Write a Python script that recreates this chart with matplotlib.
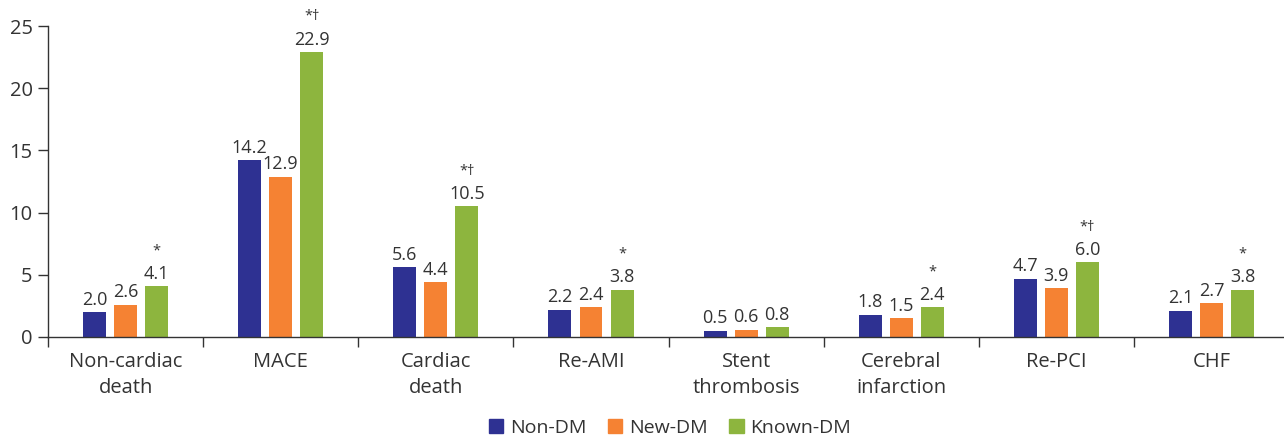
import matplotlib
matplotlib.use("Agg")
import matplotlib.pyplot as plt
import numpy as np
from matplotlib.patches import Patch

categories = ["Non-cardiac\ndeath", "MACE", "Cardiac\ndeath", "Re-AMI",
              "Stent\nthrombosis", "Cerebral\ninfarction", "Re-PCI", "CHF"]
series_names = ["Non-DM", "New-DM", "Known-DM"]
non_dm = [2.0, 14.2, 5.6, 2.2, 0.5, 1.8, 4.7, 2.1]
new_dm = [2.6, 12.9, 4.4, 2.4, 0.6, 1.5, 3.9, 2.7]
known_dm = [4.1, 22.9, 10.5, 3.8, 0.8, 2.4, 6.0, 3.8]
marks = ["*", "*\u2020", "*\u2020", "*", "", "*", "*\u2020", "*"]
yticks = [0, 5, 10, 15, 20, 25]

colors = ["#2E3192", "#F58233", "#8DB53E"]
txt = "#333333"

plt.rcParams['font.family'] = ['Open Sans', 'DejaVu Sans']

fig = plt.figure(figsize=(12.84, 4.36), dpi=100)
ax = fig.add_axes([48/1284, 1-337/436, 1.004-48/1284, (337-26)/436])

x = np.arange(len(categories))
w = 0.148
step = 0.2
for i, (vals, c) in enumerate(zip([non_dm, new_dm, known_dm], colors)):
    pos = x + (i-1)*step
    ax.bar(pos, vals, width=w, color=c, zorder=2)
    for p, v in zip(pos, vals):
        ax.annotate(f"{v:.1f}", (p, v), xytext=(0, 2.5), textcoords="offset points",
                    ha="center", va="bottom", fontsize=13, color=txt)
for xi, v, m in zip(x, known_dm, marks):
    if m:
        ax.annotate(m, (xi+step, v), xytext=(0, 20), textcoords="offset points",
                    ha="center", va="bottom", fontsize=10.5, color=txt)

ax.set_xlim(-0.5, 7.5)
ax.set_ylim(0, 25)
ax.set_yticks(yticks)
ax.set_yticklabels([str(t) for t in yticks], fontsize=14.5, color=txt)
ax.set_xticks(x)
ax.set_xticklabels(categories, fontsize=14.5, color=txt, linespacing=1.4)
ax.set_xticks(np.arange(-0.5, 7.6, 1), minor=True)
ax.tick_params(axis='x', which='major', length=0, pad=11)
ax.tick_params(axis='x', which='minor', length=7, direction='out', color="#333333", width=1)
ax.tick_params(axis='y', length=7, direction='out', color="#333333", width=1, pad=4)
for s in ["top", "right"]:
    ax.spines[s].set_visible(False)
for s in ["left", "bottom"]:
    ax.spines[s].set_color("#333333")
    ax.spines[s].set_linewidth(1)

handles = [Patch(color=c, label=n) for c, n in zip(colors, series_names)]
fig.legend(handles=handles, loc="center", bbox_to_anchor=(670/1284, 1-428/436),
           ncol=3, frameon=False, fontsize=14, handlelength=0.75, handleheight=0.75,
           handletextpad=0.35, columnspacing=1.1, labelcolor=txt)

fig.savefig("out.png", dpi=100)
